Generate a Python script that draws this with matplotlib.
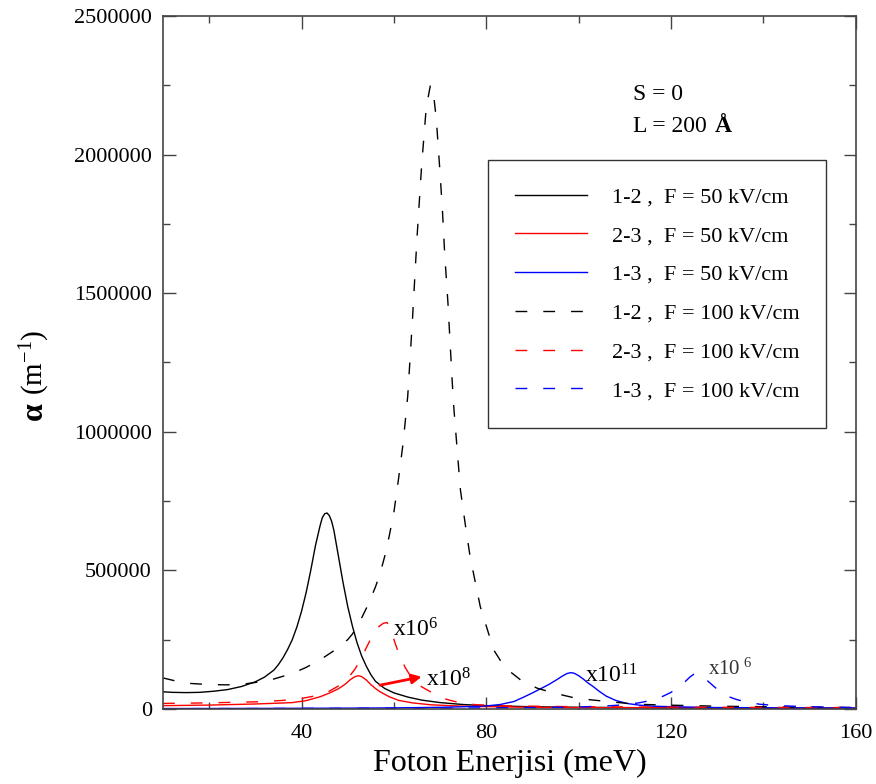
import numpy as np
import matplotlib
matplotlib.use('Agg')
import matplotlib.pyplot as plt

plt.rcParams['font.family'] = ['Liberation Serif', 'DejaVu Serif']
plt.rcParams['mathtext.fontset'] = 'custom'
plt.rcParams['mathtext.rm'] = 'Liberation Serif'
plt.rcParams['mathtext.it'] = 'Liberation Serif:italic'
plt.rcParams['mathtext.bf'] = 'Liberation Serif:bold'

# photon energy (meV) / absorption (in units of 1000 m^-1, already scaled as drawn)
# 1-2, F = 50 kV/cm
x12_50 = [10, 12, 15, 18, 21, 24, 27, 30, 32, 34, 35, 36, 37, 38, 39, 40, 41, 42, 43, 44,
          44.5, 45, 45.5, 46, 46.5, 47, 48, 49, 50, 51, 52, 53, 54, 55, 56, 58, 60, 63, 66,
          70, 75, 80, 90, 100, 120, 140, 160]
y12_50 = [62, 60, 59, 60, 64, 70, 81, 98, 115, 140, 160, 185, 215, 250, 296, 352, 420, 500,
          588, 660, 690, 704, 707, 698, 678, 645, 550, 455, 370, 300, 240, 192, 155, 124, 100,
          74, 58, 43, 32, 23, 16, 12, 8, 6, 4, 3, 2.5]

# 2-3, F = 50 kV/cm (x10^8)
x23_50 = [10, 15, 20, 25, 30, 35, 38, 41, 44, 46, 48, 49.5, 50.5, 51.5, 52.3, 53, 54, 55,
          56, 57, 59, 61, 64, 68, 75, 85, 100, 130, 160]
y23_50 = [12, 13, 14, 16, 18, 21, 23, 30, 44, 57, 73, 90, 105, 116, 120, 117, 105, 88,
          74, 62, 44, 31, 22, 15, 10, 7, 5, 4, 3]

# 1-3, F = 50 kV/cm (x10^11)
x13_50 = [10, 30, 50, 60, 70, 75, 80, 83, 86, 88, 90, 92, 93.5, 95, 96.5, 97.5, 98.3, 99,
          100, 101, 102, 103.2, 104.5, 106, 108, 110.4, 113, 116, 120.5, 130, 145, 160]
y13_50 = [1.5, 2, 3, 4, 6, 8, 11, 16, 27, 42, 58, 75, 88, 103, 119, 128, 131, 129,
          120, 108, 94, 80, 63, 46, 31, 20, 14, 10, 8, 5, 4, 3]

# 1-2, F = 100 kV/cm
x12_100 = [10, 13, 16, 20, 24, 28, 31, 34, 38, 41, 44, 47, 50, 51, 52, 53, 54, 55, 56, 57,
           58, 59, 60, 61, 62, 63, 64, 65, 66, 67, 67.9, 68.5, 69.2, 70, 70.5, 71, 71.7, 72.6,
           73, 74.4, 75.5, 76.5, 78.7, 81.6, 84, 87.4, 91, 94.5, 99.6, 106.8, 112.6, 119, 130,
           145, 160]
y12_100 = [112, 100, 92, 88, 87, 91, 98, 108, 128, 150, 177, 210, 250, 270, 295, 328, 362,
           400, 440, 488, 550, 625, 710, 830, 960, 1130, 1400, 1700, 1960, 2170, 2250, 2230,
           2124, 1930, 1800, 1640, 1464, 1187, 1080, 790, 660, 549, 369, 213, 150, 105, 75,
           58, 38, 26, 17, 14, 10, 7, 5]

# 2-3, F = 100 kV/cm (x10^6)
x23_100 = [10, 15, 20, 25, 31, 36, 40, 42, 44, 46, 48.4, 50, 51.5, 52.8, 54, 55.6, 56.8, 57.7,
           58.5, 59.3, 60.2, 61.4, 62.5, 64, 66, 67.9, 70, 72, 74.4, 78, 85, 100, 130, 160]
y23_100 = [20, 21, 22, 24, 26, 31, 38, 44, 52, 64, 87, 110, 142, 177, 220, 273, 298, 309,
           312, 290, 240, 185, 148, 108, 80, 62, 42, 32, 22, 15, 11, 8, 6, 5]

# 1-3, F = 100 kV/cm (x10^6)
x13_100 = [10, 40, 70, 90, 100, 106, 110, 113, 116, 118, 120, 121.5, 122.7, 124, 125.2,
           126.5, 128, 129.5, 131, 132.4, 134, 136, 139.2, 143, 150, 160]
y13_100 = [1, 2, 3, 5, 7, 11, 15, 22, 32, 44, 60, 78, 93, 114, 129,
           122, 100, 78, 58, 45, 35, 26, 17, 12, 8, 5]

labels = ['1-2 ,  F = 50 kV/cm', '2-3 ,  F = 50 kV/cm', '1-3 ,  F = 50 kV/cm',
          '1-2 ,  F = 100 kV/cm', '2-3 ,  F = 100 kV/cm', '1-3 ,  F = 100 kV/cm']

dash = (8.5, 11.5)

fig = plt.figure(figsize=(8.76, 7.84), dpi=100)
ax = fig.add_axes([0.186, 0.0957, 0.791, 0.884])

series = [(x12_50, y12_50, 'black', '-'), (x23_50, y23_50, 'red', '-'),
          (x13_50, y13_50, 'blue', '-'), (x12_100, y12_100, 'black', '--'),
          (x23_100, y23_100, 'red', '--'), (x13_100, y13_100, 'blue', '--')]
handles = []
for (xs, ys, c, ls), lab in zip(series, labels):
    ln, = ax.plot(xs, np.array(ys) * 1000, color=c, lw=1.0, label=lab)
    if ls == '--':
        ln.set_dashes(dash)
    handles.append(ln)

ax.set_xlim(10, 160)
ax.set_ylim(0, 2500000)
ax.set_xticks([40, 80, 120, 160])
ax.set_xticks([20, 60, 100, 140], minor=True)
ax.set_yticks([0, 500000, 1000000, 1500000, 2000000, 2500000])
ax.set_yticks([250000, 750000, 1250000, 1750000, 2250000], minor=True)
ax.set_yticklabels(['0', '500000', '1000000', '1500000', '2000000', '2500000'])
ax.tick_params(which='both', direction='in', top=True, right=True, colors='#444444',
               labelcolor='black', labelsize=16)
ax.tick_params(which='major', length=9, width=1)
ax.tick_params(which='minor', length=5, width=1)
ax.tick_params(axis='x', pad=11)
ax.tick_params(axis='y', pad=8)
for sp in ax.spines.values():
    sp.set_color('#444444')
    sp.set_linewidth(1.2)

ax.set_xlabel('Foton Enerjisi (meV)', fontsize=23, labelpad=4)
ax.text(-0.185, 0.43, 'α', transform=ax.transAxes, rotation=90, fontsize=23,
        fontweight='bold', ha='center', va='center')
ax.text(-0.185, 0.50, '(m$^{-1}$)', transform=ax.transAxes, rotation=90, fontsize=21,
        ha='center', va='center')

ax.text(0.678, 0.879, 'S = 0', transform=ax.transAxes, fontsize=17)
ax.text(0.678, 0.833, 'L = 200', transform=ax.transAxes, fontsize=17)
ax.text(0.797, 0.833, 'Å', transform=ax.transAxes, fontsize=17, fontweight='bold')

ax.text(59.9, 263000, 'x10$^{6}$', fontsize=17)
ax.text(67.0, 80000, 'x10$^{8}$', fontsize=17)
ax.text(101.4, 94000, 'x10$^{11}$', fontsize=17)
ax.text(127.9, 123000, r'x10$\;{}^{6}$', fontsize=15, color='#333333')
ax.annotate('', xy=(66.6, 118000), xytext=(56.4, 84000),
            arrowprops=dict(arrowstyle='-|>', color='red', lw=2, mutation_scale=14))

leg = ax.legend(handles=handles, loc='upper left', bbox_to_anchor=(0.469, 0.792),
                fontsize=16, frameon=True, fancybox=False, edgecolor='black',
                handlelength=3.24, handletextpad=1.13, borderpad=1.2, labelspacing=0.82,
                borderaxespad=0)
leg.get_frame().set_linewidth(1.0)

fig.savefig('out.png', dpi=100)
